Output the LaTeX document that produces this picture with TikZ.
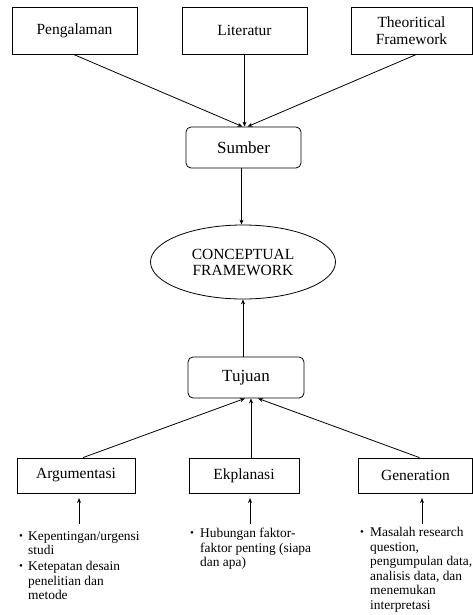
\documentclass[tikz,border=0pt]{standalone}
\usepackage{fontspec}
\setmainfont{Liberation Serif}
\usetikzlibrary{shapes.geometric,arrows.meta}
\begin{document}
\begin{tikzpicture}[x=1pt,y=-1pt,
  box/.style={draw, line width=0.8pt, align=center, inner sep=0pt, font=\fontsize{15.5}{17}\selectfont},
  rbox/.style={box, rounded corners=5pt, font=\fontsize{17}{19}\selectfont},
  arr/.style={line width=0.8pt, -{Stealth[length=5pt,width=4pt]}},
  itemtxt/.style={anchor=north west, align=left, inner sep=0pt, font=\fontsize{13.4}{14.5}\selectfont},
  bul/.style={inner sep=0pt, font=\fontsize{11}{11}\selectfont}]
\useasboundingbox (0,0) rectangle (473,615);
% top row
\node[box, minimum width=125pt, minimum height=47pt] (peng) at (74.5,30.5) {Pengalaman};
\node[box, minimum width=125pt, minimum height=47pt] (lit) at (244.5,30.5) {Literatur};
\node[box, minimum width=121pt, minimum height=47pt] (theo) at (411.5,30.5) {Theoritical\\Framework};
% sumber
\node[rbox, minimum width=115pt, minimum height=41pt] (sumber) at (243.5,147.5) {Sumber};
% ellipse
\node[ellipse, draw, line width=0.8pt, minimum width=185pt, minimum height=74pt, align=center, inner sep=0pt,
  font=\fontsize{15.5}{16}\selectfont] (ell) at (243,262) {CONCEPTUAL\\FRAMEWORK};
% tujuan
\node[rbox, minimum width=116pt, minimum height=41pt] (tuj) at (246,377.5) {Tujuan};
% bottom row
\node[box, minimum width=118pt, minimum height=35pt] (arg) at (76,475.5) {Argumentasi};
\node[box, minimum width=110pt, minimum height=35pt] (ekp) at (244,475.5) {Ekplanasi};
\node[box, minimum width=114pt, minimum height=35pt] (gen) at (415.5,475.5) {Generation};
% top connectors
\draw[arr] ([xshift=-1pt]peng.south) -- ([xshift=-1pt]sumber.north);
\draw[arr] (lit.south) -- (lit.south |- sumber.north);
\draw[arr] ([xshift=5pt]theo.south) -- ([xshift=4pt]sumber.north);
\draw[arr] ([xshift=-2pt]sumber.south) -- ([xshift=-2pt]ell.north -| sumber.south);
\draw[arr] (tuj.north -| ell.south) -- (ell.south);
% bottom connectors
\draw[arr] ([xshift=7pt]arg.north) -- ([xshift=-1pt]tuj.south);
\draw[arr] ([xshift=7pt]ekp.north) -- ([xshift=5pt]tuj.south);
\draw[arr] ([xshift=4pt]gen.north) -- ([xshift=12pt]tuj.south);
% small arrows
\coordinate (a1s) at (79,524); \coordinate (a1e) at (79,498);
\coordinate (a2s) at (250,524); \coordinate (a2e) at (250,498);
\coordinate (a3s) at (422,524); \coordinate (a3e) at (422,498);
\draw[arr] (a1s) -- (a1e);
\draw[arr] (a2s) -- (a2e);
\draw[arr] (a3s) -- (a3e);
% bullet texts
\node[bul] (b1) at (21,537) {\textbullet};
\node[itemtxt] (t1) at (28,531) {Kepentingan/urgensi\\studi};
\node[bul] (b2) at (21,567) {\textbullet};
\node[itemtxt] (t2) at (28,561) {Ketepatan desain\\penelitian dan\\metode};
\node[bul] (b3) at (192,534) {\textbullet};
\node[itemtxt] (t3) at (200,528) {Hubungan faktor-\\faktor penting (siapa\\dan apa)};
\node[bul] (b4) at (362,533) {\textbullet};
\node[itemtxt] (t4) at (370,527) {Masalah research\\question,\\pengumpulan data,\\analisis data, dan\\menemukan\\interpretasi};
\end{tikzpicture}
\end{document}
